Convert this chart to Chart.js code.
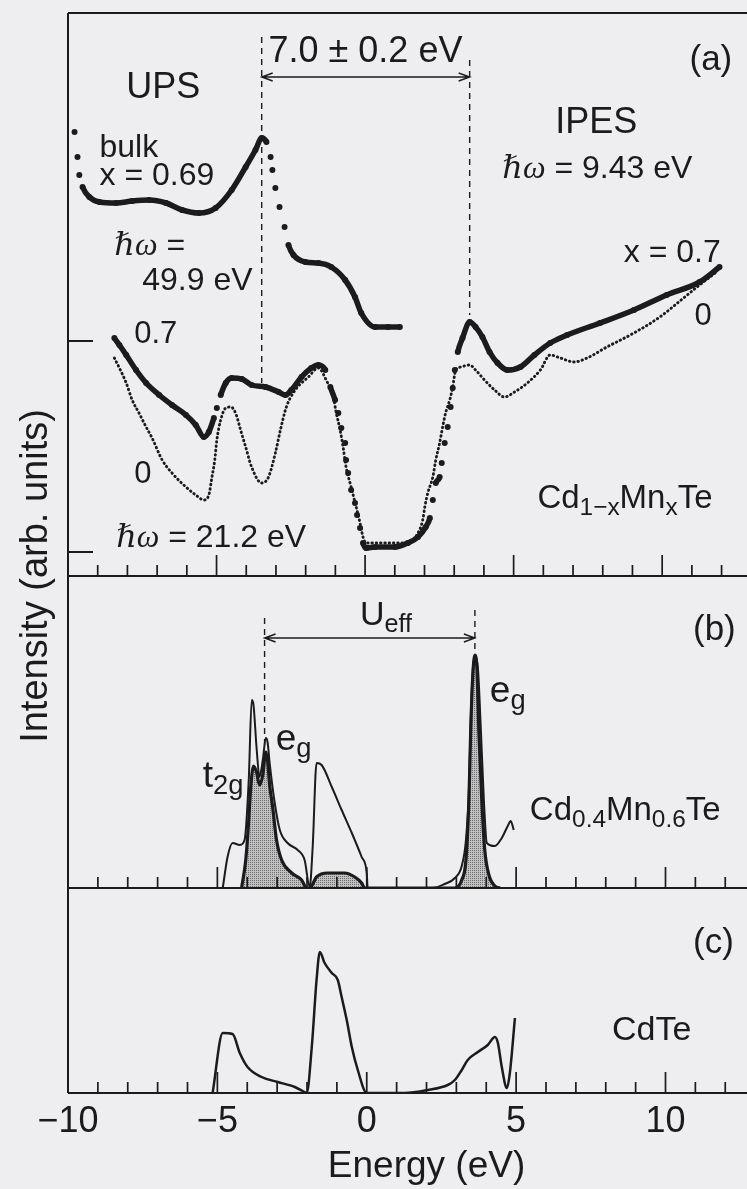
<!DOCTYPE html>
<html>
<head>
<meta charset="utf-8">
<title>Cd1-xMnxTe: UPS/IPES spectra and density of states</title>
<script src="https://cdn.jsdelivr.net/npm/chart.js@4.4.1/dist/chart.umd.min.js"></script>
<style>
  html, body { margin: 0; overflow: hidden; background: #eeeef0; }
  #figure { position: relative; width: 747px; height: 1189px; overflow: hidden; }
  #figure canvas { position: absolute; left: 0; top: 0; }
</style>
</head>
<body>
<div id="figure">
  <canvas id="panelA" width="785" height="1189"></canvas>
  <canvas id="panelB" width="785" height="1189"></canvas>
  <canvas id="panelC" width="785" height="1189"></canvas>
</div>
<script>
// energy in eV, intensity in arbitrary units (offsets included)

// (a) UPS, hv = 49.9 eV, bulk x = 0.69
const bulkUps = [
  [-9.78, 4.44], [-9.68, 4.19], [-9.62, 4.01], [-9.51, 3.89], [-9.28, 3.79], [-8.94, 3.74],
  [-8.38, 3.73], [-7.84, 3.75], [-7.27, 3.76], [-6.70, 3.73], [-6.16, 3.66], [-5.59, 3.63],
  [-5.03, 3.68], [-4.49, 3.86], [-4.02, 4.09], [-3.69, 4.26], [-3.48, 4.38], [-3.32, 4.34],
  [-3.18, 4.19], [-3.12, 4.06], [-3.02, 3.88], [-2.88, 3.69], [-2.71, 3.49], [-2.58, 3.31],
  [-2.41, 3.21], [-2.01, 3.14], [-1.57, 3.13], [-1.14, 3.09], [-0.67, 2.96], [-0.34, 2.79],
  [-0.13, 2.63], [0.34, 2.49], [0.77, 2.49], [1.17, 2.49]
];

// (a) UPS hv = 21.2 eV joined to IPES hv = 9.43 eV, x = 0.7
const spectrumX07 = [
  [-8.44, 2.38], [-8.27, 2.31], [-8.04, 2.21], [-7.71, 2.06], [-7.37, 1.93], [-6.93, 1.81],
  [-6.50, 1.71], [-6.03, 1.61], [-5.70, 1.51], [-5.43, 1.39], [-5.26, 1.44], [-5.09, 1.58],
  [-4.99, 1.68], [-4.86, 1.81], [-4.69, 1.93], [-4.49, 1.98], [-4.15, 1.97], [-3.82, 1.91],
  [-3.35, 1.89], [-2.91, 1.84], [-2.68, 1.81], [-2.48, 1.86], [-2.14, 1.99], [-1.81, 2.08],
  [-1.57, 2.11], [-1.34, 2.06], [-1.17, 1.89], [-1.01, 1.76], [-0.90, 1.63], [-0.80, 1.48],
  [-0.67, 1.33], [-0.64, 1.16], [-0.57, 1.03], [-0.47, 0.86], [-0.34, 0.73], [-0.27, 0.61],
  [-0.17, 0.48], [-0.07, 0.33], [0.03, 0.28], [0.34, 0.29], [1.01, 0.29], [1.44, 0.33],
  [1.78, 0.39], [2.04, 0.49], [2.18, 0.58], [2.28, 0.76], [2.38, 0.93], [2.51, 0.99],
  [2.58, 1.13], [2.68, 1.33], [2.78, 1.49], [2.88, 1.69], [2.95, 1.88], [3.02, 2.06],
  [3.12, 2.24], [3.28, 2.38], [3.52, 2.54], [3.72, 2.49], [3.95, 2.39], [4.19, 2.24],
  [4.46, 2.13], [4.79, 2.06], [5.23, 2.09], [5.70, 2.21], [6.23, 2.33], [6.80, 2.41],
  [7.91, 2.53], [9.05, 2.66], [10.15, 2.81], [11.26, 2.94], [11.93, 3.09]
];

// (a) same, x = 0 (CdTe)
const spectrumX0 = [
  [-8.44, 2.18], [-8.27, 2.08], [-8.04, 1.93], [-7.84, 1.76], [-7.61, 1.63], [-7.37, 1.49],
  [-7.17, 1.38], [-6.83, 1.16], [-6.50, 1.03], [-6.03, 0.89], [-5.70, 0.81], [-5.43, 0.76],
  [-5.26, 0.81], [-5.16, 0.98], [-5.06, 1.16], [-4.99, 1.36], [-4.86, 1.56], [-4.69, 1.68],
  [-4.52, 1.69], [-4.36, 1.63], [-4.19, 1.46], [-4.02, 1.29], [-3.82, 1.09], [-3.48, 0.93],
  [-3.25, 0.99], [-3.02, 1.23], [-2.85, 1.46], [-2.65, 1.69], [-2.35, 1.86], [-1.91, 1.99],
  [-1.57, 2.08], [-1.31, 1.96], [-1.07, 1.79], [-0.97, 1.63], [-0.84, 1.46], [-0.74, 1.29],
  [-0.64, 1.09], [-0.47, 0.89], [-0.30, 0.69], [-0.17, 0.53], [-0.07, 0.39], [0.03, 0.33],
  [0.34, 0.33], [1.44, 0.33], [1.78, 0.43], [1.94, 0.56], [2.01, 0.69], [2.11, 0.83],
  [2.28, 0.99], [2.38, 1.16], [2.51, 1.33], [2.61, 1.49], [2.71, 1.63], [2.85, 1.76],
  [2.95, 1.89], [3.05, 2.06], [3.22, 2.09], [3.52, 2.11], [3.72, 2.06], [4.02, 1.96],
  [4.36, 1.86], [4.69, 1.79], [5.03, 1.84], [5.46, 1.93], [5.90, 2.06], [6.23, 2.21],
  [6.57, 2.18], [7.04, 2.14], [7.47, 2.18], [8.14, 2.29], [9.05, 2.43], [9.92, 2.59],
  [10.72, 2.78], [11.26, 2.91], [11.83, 3.04]
];

// (b) Cd0.4Mn0.6Te: total DOS and Mn 3d partial DOS
const dosTotal = [
  [-4.82, 0], [-4.66, 0.31], [-4.49, 0.45], [-4.25, 0.43], [-4.09, 0.48], [-3.95, 1.08],
  [-3.85, 1.88], [-3.79, 1.83], [-3.69, 1.41], [-3.59, 1.11], [-3.48, 1.28], [-3.38, 1.50],
  [-3.32, 1.46], [-3.25, 1.25], [-3.08, 0.85], [-2.91, 0.58], [-2.65, 0.45], [-2.31, 0.38],
  [-2.08, 0.28], [-1.91, 0.01], [-1.81, 0.41], [-1.68, 1.25], [-1.51, 1.23], [-1.17, 1.01],
  [-0.84, 0.78], [-0.50, 0.55], [-0.17, 0.31], [0, 0.15], [0.03, 0], [2.21, 0],
  [2.61, 0.04], [2.95, 0.10], [3.18, 0.22], [3.32, 0.48], [3.42, 0.98], [3.48, 1.68],
  [3.55, 2.18], [3.62, 2.31], [3.72, 2.20], [3.82, 1.58], [3.92, 0.88], [4.02, 0.45],
  [4.29, 0.42], [4.52, 0.50], [4.72, 0.62], [4.82, 0.67], [4.92, 0.58]
];
const dosMn3d = [
  [-4.19, 0], [-4.05, 0.28], [-3.95, 0.68], [-3.89, 0.98], [-3.79, 1.22], [-3.69, 1.16],
  [-3.59, 1.03], [-3.48, 1.13], [-3.38, 1.36], [-3.32, 1.28], [-3.25, 1.03], [-3.15, 0.81],
  [-3.02, 0.48], [-2.85, 0.28], [-2.51, 0.15], [-2.18, 0.08], [-2.01, 0], [-1.91, 0],
  [-1.68, 0.11], [-1.31, 0.15], [-0.74, 0.15], [-0.40, 0.11], [-0.17, 0.05], [-0.07, 0],
  [2.95, 0], [3.18, 0.08], [3.32, 0.28], [3.42, 0.88], [3.48, 1.58], [3.55, 2.13],
  [3.62, 2.33], [3.69, 2.18], [3.75, 1.58], [3.85, 0.88], [3.95, 0.38], [4.09, 0.13],
  [4.29, 0.02], [4.46, 0]
];

// (c) CdTe DOS
const dosCdTe = [
  [-5.16, 0], [-4.82, 0.60], [-4.49, 0.59], [-4.25, 0.40], [-3.99, 0.26], [-3.52, 0.16],
  [-2.98, 0.11], [-2.41, 0.06], [-2.08, 0.01], [-2.01, 0], [-1.84, 0.46], [-1.68, 1.13],
  [-1.57, 1.41], [-1.41, 1.30], [-1.17, 1.20], [-0.97, 1.13], [-0.84, 0.96], [-0.67, 0.73],
  [-0.50, 0.46], [-0.30, 0.23], [0, 0], [1.27, 0], [2.04, 0.03], [2.71, 0.08],
  [2.95, 0.13], [3.18, 0.23], [3.38, 0.33], [3.72, 0.41], [4.05, 0.48], [4.29, 0.56],
  [4.39, 0.50], [4.52, 0.26], [4.69, 0.05], [4.79, 0.20], [4.96, 0.75]
];

const energyTicks = [-10, -5, 0, 5, 10];
const offsetTicksA = [2.35, 0.24];   // zero lines of the 21.2 eV spectra

const E_MIN = -10, E_MAX = 14;
const INK = '#1b1b1d';
const SANS = '"Liberation Sans", Arial, Helvetica, sans-serif';
const SERIF = '"Liberation Serif", "DejaVu Serif", serif';

const pts = arr => arr.map(([x, y]) => ({ x, y }));

// dense data reads as a thick trace, steep stretches show the separate dots
const steep = ctx => Math.abs(ctx.p1.y - ctx.p0.y) > 3 * Math.abs(ctx.p1.x - ctx.p0.x);
function dotted(data) {
  return {
    data: pts(data), borderColor: INK, borderWidth: 5.5, pointRadius: 3,
    pointBackgroundColor: INK, pointBorderWidth: 0,
    segment: { borderColor: ctx => steep(ctx) ? 'rgba(0,0,0,0)' : undefined }
  };
}

// fine grey halftone used under the Mn 3d curve
function stipple() {
  const c = document.createElement('canvas');
  c.width = c.height = 2;
  const g = c.getContext('2d');
  g.fillStyle = '#c2c2c2'; g.fillRect(0, 0, 2, 2);
  g.fillStyle = '#6a6a6a'; g.fillRect(0, 0, 1, 1);
  return g.createPattern(c, 'repeat');
}

function frame(chart, top) {
  const { ctx, chartArea: a, scales: { x } } = chart;
  ctx.save();
  ctx.strokeStyle = INK;
  ctx.lineWidth = 2;
  ctx.beginPath();
  ctx.moveTo(a.left, a.bottom); ctx.lineTo(a.right, a.bottom);
  ctx.moveTo(a.left, a.top); ctx.lineTo(a.left, a.bottom);
  if (top) { ctx.moveTo(a.left, a.top); ctx.lineTo(a.right, a.top); }
  ctx.stroke();
  ctx.lineWidth = 1.7;
  ctx.beginPath();
  for (let e = E_MIN + 1; e < E_MAX; e++) {
    const px = x.getPixelForValue(e);
    ctx.moveTo(px, a.bottom);
    ctx.lineTo(px, a.bottom - (e % 5 === 0 ? 21 : 11));
  }
  ctx.stroke();
  ctx.restore();
}

function guides(chart, lines, arrow) {
  const { ctx, scales: { x, y } } = chart;
  ctx.save();
  ctx.strokeStyle = INK;
  ctx.lineWidth = 1.4;
  ctx.setLineDash([6, 5]);
  ctx.beginPath();
  lines.forEach(g => {
    const px = x.getPixelForValue(g.e);
    ctx.moveTo(px, y.getPixelForValue(g.from));
    ctx.lineTo(px, y.getPixelForValue(g.to));
  });
  ctx.stroke();
  ctx.setLineDash([]);
  const x0 = x.getPixelForValue(arrow.from), x1 = x.getPixelForValue(arrow.to);
  const py = y.getPixelForValue(arrow.v);
  ctx.beginPath();
  ctx.moveTo(x0, py); ctx.lineTo(x1, py);
  ctx.moveTo(x0 + 11, py - 4); ctx.lineTo(x0, py); ctx.lineTo(x0 + 11, py + 4);
  ctx.moveTo(x1 - 11, py - 4); ctx.lineTo(x1, py); ctx.lineTo(x1 - 11, py + 4);
  ctx.stroke();
  ctx.restore();
}

function labels(chart, items) {
  const { ctx, scales: { x, y } } = chart;
  ctx.save();
  ctx.fillStyle = INK;
  ctx.textAlign = 'left';
  ctx.textBaseline = 'alphabetic';
  items.forEach(it => {
    let px = x.getPixelForValue(it.at[0]);
    const py = y.getPixelForValue(it.at[1]);
    it.runs.forEach(r => {
      const [txt, kind] = Array.isArray(r) ? r : [r, ''];
      const size = kind === 'sub' ? it.size * 0.74 : it.size;
      ctx.font = kind === 'it' ? `italic ${size}px ${SERIF}` : `${size}px ${SANS}`;
      ctx.fillText(txt, px, py + (kind === 'sub' ? it.size * 0.2 : 0));
      px += ctx.measureText(txt).width;
    });
  });
  ctx.restore();
}

function makePanel(id, cfg) {
  return new Chart(document.getElementById(id), {
    type: 'line',
    data: { datasets: cfg.datasets },
    options: {
      responsive: false,
      animation: false,
      events: [],
      layout: { padding: { left: 68, right: 0, top: cfg.top, bottom: cfg.padBottom } },
      plugins: { legend: { display: false }, tooltip: { enabled: false } },
      elements: { line: { cubicInterpolationMode: 'monotone', fill: false } },
      scales: {
        x: cfg.xAxis || { type: 'linear', min: E_MIN, max: E_MAX, display: false },
        y: { min: 0, max: cfg.ymax, display: false }
      }
    },
    plugins: [{ id: 'decor', afterDraw: cfg.decorate }]
  });
}

// (a) photoemission spectra
makePanel('panelA', {
  top: 13, padBottom: 1189 - 576, ymax: 5.63,
  datasets: [
    dotted(bulkUps),
    dotted(spectrumX07),
    { data: pts(spectrumX0), borderColor: INK, borderWidth: 2.9, borderDash: [0.5, 3.8],
      borderCapStyle: 'round', pointRadius: 0 }
  ],
  decorate: chart => {
    const { ctx, chartArea: a, scales: { y } } = chart;
    frame(chart, true);
    ctx.save();
    ctx.strokeStyle = INK; ctx.lineWidth = 2;
    ctx.beginPath();
    offsetTicksA.forEach(v => {
      const py = y.getPixelForValue(v);
      ctx.moveTo(a.left, py); ctx.lineTo(a.left + 25, py);
    });
    ctx.stroke();
    // shared intensity axis title
    ctx.translate(47, a.bottom);
    ctx.rotate(-Math.PI / 2);
    ctx.fillStyle = INK;
    ctx.font = `38px ${SANS}`;
    ctx.textAlign = 'center';
    ctx.fillText('Intensity (arb. units)', 0, 0);
    ctx.restore();
    guides(chart, [{ e: -3.48, from: 5.39, to: 1.93 }, { e: 3.52, from: 5.16, to: 2.61 }],
      { from: -3.48, to: 3.52, v: 4.99 });
    labels(chart, [
      { at: [-8.04, 4.78], size: 36, runs: ['UPS'] },
      { at: [-8.94, 4.19], size: 32, runs: ['bulk'] },
      { at: [-8.94, 3.91], size: 32, runs: ['x = 0.69'] },
      { at: [-8.44, 3.21], size: 32, runs: [['ℏω', 'it'], ' ='] },
      { at: [-7.50, 2.86], size: 32, runs: ['49.9 eV'] },
      { at: [-3.25, 5.14], size: 36, runs: ['7.0 ± 0.2 eV'] },
      { at: [10.92, 5.06], size: 35, runs: ['(a)'] },
      { at: [6.40, 4.43], size: 36, runs: ['IPES'] },
      { at: [4.62, 3.98], size: 32, runs: [['ℏω', 'it'], ' = 9.43 eV'] },
      { at: [8.71, 3.14], size: 32, runs: ['x = 0.7'] },
      { at: [11.09, 2.51], size: 31, runs: ['0'] },
      { at: [-7.77, 2.33], size: 31, runs: ['0.7'] },
      { at: [-7.77, 0.93], size: 31, runs: ['0'] },
      { at: [-8.38, 0.29], size: 32, runs: [['ℏω', 'it'], ' = 21.2 eV'] },
      { at: [5.80, 0.68], size: 33, runs: ['Cd', ['1−x', 'sub'], 'Mn', ['x', 'sub'], 'Te'] }
    ]);
  }
});

// (b) calculated DOS of Cd0.4Mn0.6Te
makePanel('panelB', {
  top: 576, padBottom: 1189 - 888, ymax: 3.12,
  datasets: [
    { data: pts(dosTotal), borderColor: INK, borderWidth: 2, pointRadius: 0 },
    { data: pts(dosMn3d), borderColor: INK, borderWidth: 3.2, pointRadius: 0,
      fill: 'origin', backgroundColor: stipple() }
  ],
  decorate: chart => {
    frame(chart, false);
    guides(chart, [{ e: -3.42, from: 2.70, to: 1.43 }, { e: 3.62, from: 2.78, to: 2.36 }],
      { from: -3.42, to: 3.62, v: 2.50 });
    labels(chart, [
      { at: [-0.23, 2.63], size: 34, runs: ['U', ['eff', 'sub']] },
      { at: [10.92, 2.48], size: 35, runs: ['(b)'] },
      { at: [4.12, 1.86], size: 37, runs: ['e', ['g', 'sub']] },
      { at: [-3.05, 1.38], size: 37, runs: ['e', ['g', 'sub']] },
      { at: [-5.49, 1.01], size: 37, runs: ['t', ['2g', 'sub']] },
      { at: [5.46, 0.68], size: 33, runs: ['Cd', ['0.4', 'sub'], 'Mn', ['0.6', 'sub'], 'Te'] }
    ]);
  }
});

// (c) calculated DOS of CdTe, carries the energy axis
makePanel('panelC', {
  top: 888, padBottom: 0, ymax: 2.05,
  datasets: [
    { data: pts(dosCdTe), borderColor: INK, borderWidth: 2.5, pointRadius: 0 }
  ],
  xAxis: {
    type: 'linear', min: E_MIN, max: E_MAX,
    afterBuildTicks: s => { s.ticks = energyTicks.map(v => ({ value: v })); },
    grid: { display: false, drawTicks: false },
    border: { display: false },
    ticks: {
      padding: 7, color: INK, maxRotation: 0, autoSkip: false,
      font: { family: SANS, size: 36 },
      callback: v => (v < 0 ? '\u2212' + Math.abs(v) : String(v))
    },
    title: { display: true, text: 'Energy (eV)', color: INK, padding: 0,
      font: { family: SANS, size: 37 } },
    afterFit: s => { s.height = 96; }
  },
  decorate: chart => {
    frame(chart, false);
    labels(chart, [
      { at: [10.92, 1.40], size: 35, runs: ['(c)'] },
      { at: [8.21, 0.53], size: 34, runs: ['CdTe'] }
    ]);
  }
});
</script>
</body>
</html>
